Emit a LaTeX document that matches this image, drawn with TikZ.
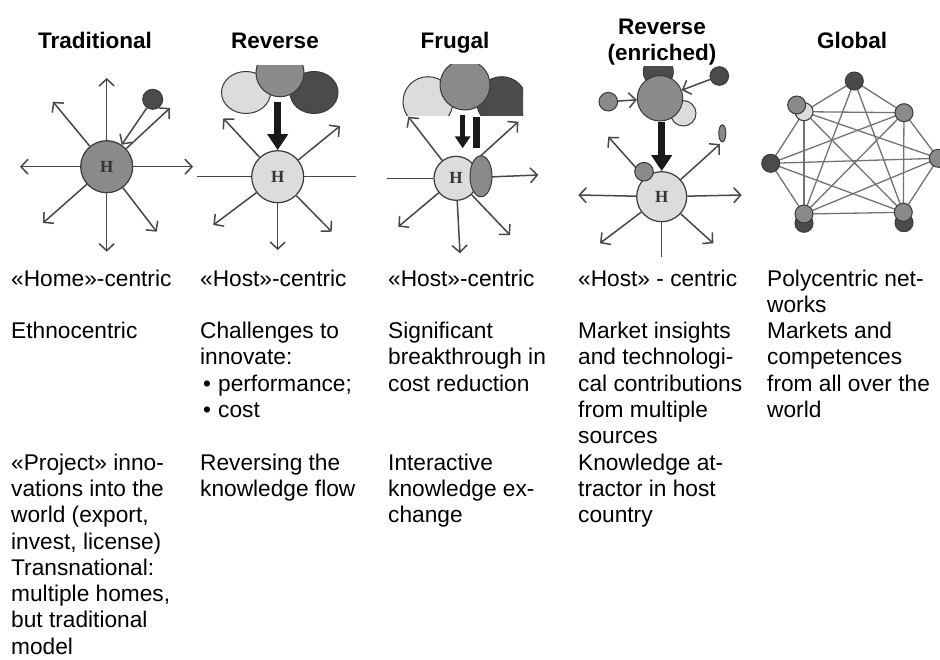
\documentclass[tikz,border=0pt]{standalone}
\usepackage{fontspec}
\setmainfont{Liberation Sans}
\newfontfamily\hfont{Liberation Serif}
\usetikzlibrary{arrows.meta,shapes.geometric,positioning,backgrounds}
\definecolor{darkfill}{HTML}{4B4B4B}
\definecolor{midfill}{HTML}{8A8A8A}
\definecolor{lightfill}{HTML}{DCDCDC}
\definecolor{rimgray}{HTML}{3A3A3A}
\definecolor{spokegray}{HTML}{474747}
\newcommand{\cellbox}[1]{\parbox[t]{185pt}{\raggedright #1}}
\tikzset{hub/.style={circle,draw=rimgray,line width=1.2pt,minimum size=52pt,inner sep=0pt,
    font=\hfont\bfseries\fontsize{17}{17}\selectfont,text=black!80},
  ball/.style={circle,draw=rimgray,line width=1pt,inner sep=0pt,minimum size=#1},
  oval/.style 2 args={ellipse,draw=rimgray,line width=1pt,inner sep=0pt,minimum width=#1,minimum height=#2},
  spoke/.style={draw=spokegray,line width=1.5pt},
  spokearr/.style={spoke,-{Straight Barb[length=7pt,width=15pt]}},
  bigarrow/.style={draw=black!90,line width=7pt,-{Triangle[length=16pt,width=20pt]}},
  link/.style={draw=black!55,line width=1.3pt},
  hdr/.style={anchor=base,inner sep=0pt,font=\bfseries\fontsize{22.5}{26.2}\selectfont},
  celltext/.style={anchor=base west,inner sep=0pt,font=\fontsize{22.7}{26.3}\selectfont}
}
\begin{document}
\begin{tikzpicture}[x=1pt,y=-1pt]
\useasboundingbox (0,0) rectangle (940,659);

\node[hdr] (hd_1) at (95,48) {Traditional};
\node[hdr] (hd_2) at (275,48) {Reverse};
\node[hdr] (hd_3) at (455,48) {Frugal};
\node[hdr] (hd_4) at (662,34) {\parbox[t]{160pt}{\centering Reverse\\(enriched)}};
\node[hdr] (hd_5) at (852,48) {Global};

% traditional
\node[hub,fill=midfill] (h_1) at (106.7,166.7) {H};
\node[ball=20pt,fill=darkfill] (d_1) at (152.7,99.3) {};
\foreach \x/\y [count=\i] in {106.7/78,193/166.7,106.7/251.7,20/166.7,53/101.7,43/223,156.7/231.7,170/108}
  {\coordinate (t_1_\i) at (\x,\y);
   \draw[spokearr] (h_1) -- (t_1_\i);}
\draw[spokearr] (d_1) -- (h_1);

% reverse
\coordinate (w_2) at (197,176.7);
\coordinate (e_2) at (356,176.7);
\coordinate (s_2) at (277.7,101.7);
\node[hub,fill=lightfill] (h_2) at (277.7,176.7) {H};
\draw[spoke] (h_2) -- (w_2);
\draw[spoke] (h_2) -- (e_2);
\foreach \x/\y [count=\i] in {223.3/118.3,340/126,213.3/225,277.7/250,331.7/231.7}
  {\coordinate (t_2_\i) at (\x,\y);
   \draw[spokearr] (h_2) -- (t_2_\i);}
\node[oval={49pt}{42pt},fill=lightfill] (l_2) at (246,92.5) {};
\node[oval={48pt}{42pt},fill=darkfill] (r_2) at (314,92.5) {};
\begin{scope}
  \clip (240,65) rectangle (320,110);
  \node[ball=48pt,fill=midfill] (m_2) at (280,72.7) {};
\end{scope}
\draw[bigarrow] (s_2) -- (h_2);

% frugal
\coordinate (w_3) at (386.7,178.3);
\coordinate (s_3) at (462.7,115);
\coordinate (f_3) at (462.7,148.3);
\coordinate (b_3) at (476.7,116.7);
\coordinate (c_3) at (476.7,148.3);
\node[hub,minimum size=44pt,fill=lightfill] (h_3) at (456,178.3) {H};
\draw[spoke] (h_3) -- (w_3);
\foreach \x/\y [count=\i] in {408.3/116.7,518.3/121.7,538.3/175,398.3/226.7,460/253.3,510/235}
  {\coordinate (t_3_\i) at (\x,\y);
   \draw[spokearr] (h_3) -- (t_3_\i);}
\node[oval={22pt}{41pt},fill=midfill] (o_3) at (481,176.3) {};
\begin{scope}
  \clip (395,64) rectangle (523,115);
  \node[ball=50pt,fill=lightfill] (l_3) at (428,101.7) {};
  \node[ball=50pt,fill=darkfill] (r_3) at (501.7,101.7) {};
  \node[ball=50pt,fill=midfill] (m_3) at (465,85) {};
\end{scope}
\draw[bigarrow,line width=5pt,-{Triangle[length=12pt,width=15pt]}] (s_3) -- (f_3);
\draw[draw=black!90,line width=6.7pt] (b_3) -- (c_3);

% reverse (enriched)
\coordinate (s_4) at (661.7,121.7);
\coordinate (u_4) at (661.7,256.7);
\node[hub,minimum size=50pt,fill=lightfill] (h_4) at (661.7,196.7) {H};
\draw[spoke] (h_4) -- (u_4);
\foreach \x/\y [count=\i] in {608.3/136.7,720/144,578.3/195,741.7/195,600/243.3,713.3/243.3}
  {\coordinate (t_4_\i) at (\x,\y);
   \draw[spokearr] (h_4) -- (t_4_\i);}
\node[ball=18.6pt,fill=midfill] (a_4) at (644,171.7) {};
\begin{scope}
  \clip (630,66) rectangle (690,100);
  \node[ball=30pt,fill=darkfill] (d_4) at (658.3,71.7) {};
\end{scope}
\node[ball=25.4pt,fill=lightfill] (l_4) at (683.3,113.3) {};
\node[ball=45.4pt,fill=midfill] (m_4) at (660,98.3) {};
\node[ball=18.6pt,fill=midfill] (p_4) at (608.3,101.7) {};
\node[ball=18.6pt,fill=darkfill] (q_4) at (719.3,76) {};
\node[oval={7pt}{17pt},fill=midfill] (o_4) at (722.3,133.3) {};
\draw[spokearr] (p_4) -- (m_4);
\draw[spokearr] (q_4) -- (m_4);
\draw[bigarrow] (s_4) -- (h_4);

% global
\node[ball=18pt,fill=darkfill] (n_t) at (854.3,81) {};
\node[ball=18pt,fill=lightfill] (n_ul) at (804,111.7) {};
\node[ball=18pt,fill=midfill] (n_ulf) at (796.7,105) {};
\node[ball=18pt,fill=midfill] (n_ur) at (904,112.7) {};
\node[ball=18pt,fill=darkfill] (n_l) at (770.7,163.3) {};
\node[ball=18pt,fill=midfill] (n_r) at (938.3,158.3) {};
\node[ball=18pt,fill=darkfill] (n_llb) at (804,223.3) {};
\node[ball=18pt,fill=midfill] (n_ll) at (804,214) {};
\node[ball=18pt,fill=darkfill] (n_lrb) at (904,222.7) {};
\node[ball=18pt,fill=midfill] (n_lr) at (903.3,212.3) {};
\begin{scope}[on background layer]
\foreach \a/\b in {t/ul,t/ur,t/ll,t/lr,ul/ur,ul/l,ul/ll,ul/lr,ul/r,ur/r,ur/lr,ur/ll,ur/l,l/r,l/ll,l/lr,r/lr,r/ll,ll/lr}
  \draw[link] (n_\a.center) -- (n_\b.center);
\end{scope}

% texts
\node[celltext] (c_1_1) at (11,286) {\cellbox{«Home»-centric}};
\node[celltext] (c_1_2) at (11,338.6) {\cellbox{Ethnocentric}};
\node[celltext] (c_1_3) at (11,470.1) {\cellbox{«Project» inno-\\vations into the\\world (export,\\invest, license)\\Transnational:\\multiple homes,\\but traditional\\model}};
\node[celltext] (c_2_1) at (200,286) {\cellbox{«Host»-centric}};
\node[celltext] (c_2_2) at (200,338.6) {\cellbox{Challenges to\\innovate:\\\makebox[18pt][l]{\hspace{3pt}\textbullet}performance;\\\makebox[18pt][l]{\hspace{3pt}\textbullet}cost}};
\node[celltext] (c_2_3) at (200,470.1) {\cellbox{Reversing the\\knowledge flow}};
\node[celltext] (c_3_1) at (388,286) {\cellbox{«Host»-centric}};
\node[celltext] (c_3_2) at (388,338.6) {\cellbox{Significant\\breakthrough in\\cost reduction}};
\node[celltext] (c_3_3) at (388,470.1) {\cellbox{Interactive\\knowledge ex-\\change}};
\node[celltext] (c_4_1) at (578,286) {\cellbox{«Host» - centric}};
\node[celltext] (c_4_2) at (578,338.6) {\cellbox{Market insights\\and technologi-\\cal contributions\\from multiple\\sources}};
\node[celltext] (c_4_3) at (578,470.1) {\cellbox{Knowledge at-\\tractor in host\\country}};
\node[celltext] (c_5_1) at (767,286) {\cellbox{Polycentric net-\\works}};
\node[celltext] (c_5_2) at (767,338.6) {\cellbox{Markets and\\competences\\from all over the\\world}};
\end{tikzpicture}
\end{document}
